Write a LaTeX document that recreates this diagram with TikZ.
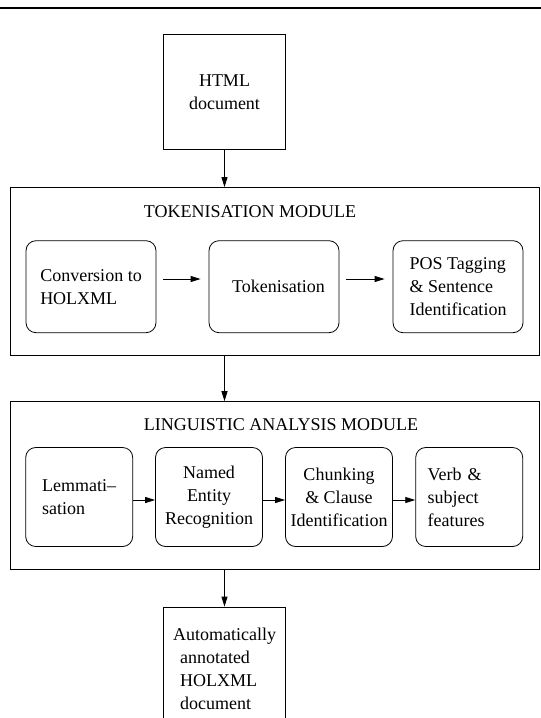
\documentclass[tikz,border=0pt]{standalone}
\usepackage{fontspec}
\setmainfont{Liberation Serif}
\usetikzlibrary{arrows.meta}
\tikzset{
  docbox/.style={draw, line width=0.8, inner sep=2, minimum width=122, 
    minimum height=115},
  modbox/.style={draw, line width=0.8, inner sep=0, minimum width=529, 
    minimum height=168},
  stagebox/.style={draw, rounded corners=10, line width=0.8, inner sep=0, 
    minimum width=130, minimum height=92},
  smallbox/.style={draw, rounded corners=10, line width=0.8, inner sep=0, 
    minimum width=107, minimum height=99},
  heading/.style={draw=none, inner sep=0}
}

\begin{document}
\begin{tikzpicture}[x=1pt, y=-1pt, >={Triangle[length=10pt,width=6pt]},
  font=\fontsize{18}{23}\selectfont]

\clip (0,0) rectangle (541,718);
\draw[line width=2] (0,7.7) -- (541,7.7);

\node [docbox, align=center] (html) at (224.5,91.7) {HTML\\document};


\node [modbox] (tokmod) at (275.1,271.5) {};
\node [heading] (toktitle) at (250,212) {TOKENISATION MODULE};

\node [stagebox, align=left] (conv) at (91,286.7) {Conversion to\\HOLXML};
\node [stagebox] (tok) at (274,286.7) {~~Tokenisation};
\node [stagebox, align=left] (pos) at (458,286.7) {POS Tagging\\\& Sentence\\Identification};

\draw[->, line width=0.8, shorten <=7pt, shorten >=8pt] ([yshift=7.7pt]conv.east) -- ([yshift=7.7pt]tok.west);
\draw[->, line width=0.8, shorten <=7pt, shorten >=8pt] ([yshift=7.7pt]tok.east) -- ([yshift=7.7pt]pos.west);


\node [modbox] (lingmod) at (275.1,485.6) {};
\node [heading] (lingtitle) at (281,425) {LINGUISTIC ANALYSIS MODULE};

\node [smallbox, align=left] (lem) at (79.2,497) {Lemmati--\\sation};
\node [smallbox, align=center] (ner) at (209,497) {Named\\Entity\\Recognition};
\node [smallbox, align=center] (chunk) at (339,497) {Chunking\\\& Clause\\Identification};
\node [smallbox, text width=83, align=left] (verb) at (469.2,497) {Verb \&\\subject\\features};

\draw[->, line width=0.8] ([yshift=-3pt]lem.east) -- ([yshift=-3pt]ner.west);
\draw[->, line width=0.8] ([yshift=-3pt]ner.east) -- ([yshift=-3pt]chunk.west);
\draw[->, line width=0.8] ([yshift=-3pt]chunk.east) -- ([yshift=-3pt]verb.west);


\node [docbox, minimum height=124, align=left] (out) at (224.5,669) 
  {Automatically\\\hspace*{7pt}annotated\\\hspace*{7pt}HOLXML\\\hspace*{7pt}document};

\draw[->, line width=0.8] (html.south) -- (html.south |- tokmod.north);
\draw[->, line width=0.8] (html.south |- tokmod.south) -- (html.south |- lingmod.north);
\draw[->, line width=0.8] (out.north |- lingmod.south) -- (out.north);

\end{tikzpicture}
\end{document}
